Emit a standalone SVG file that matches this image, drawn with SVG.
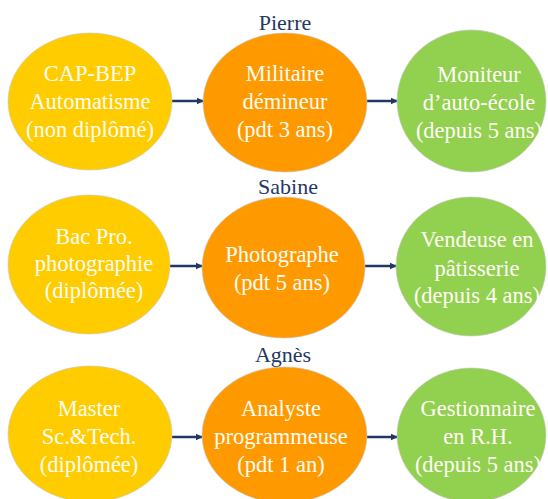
<svg xmlns="http://www.w3.org/2000/svg" width="548" height="499" viewBox="0 0 548 499">
  <style>
    .edu { fill: #FFCC00; }
    .job1 { fill: #FF9900; }
    .job2 { fill: #92D050; }
    .node ellipse { stroke: #c8c8c8; stroke-opacity: 0.6; stroke-width: 1; }
    .node text { font-family: "Liberation Serif", serif; font-size: 22.5px; fill: #fffdf5; text-anchor: middle; }
    .name { font-family: "Liberation Serif", serif; font-size: 22px; fill: #1F3864; text-anchor: middle; }
    .link { stroke: #1F3864; stroke-width: 2.5; fill: none; marker-end: url(#head); }
  </style>
  <defs>
    <marker id="head" markerWidth="8" markerHeight="8" refX="6" refY="4" orient="auto" markerUnits="userSpaceOnUse">
      <path d="M0,0.8 L7,4 L0,7.2 Z" fill="#1F3864"/>
    </marker>
  </defs>
  <rect x="0" y="0" width="548" height="499" fill="#ffffff"/>

  <!-- person names -->
  <g id="labels">
    <text class="name" x="285" y="30">Pierre</text>
    <text class="name" x="288" y="194">Sabine</text>
    <text class="name" x="283" y="362">Agnès</text>
  </g>

  <!-- arrows between career stages -->
  <g id="connectors">
    <line class="link" x1="172" y1="101" x2="203" y2="101"/>
    <line class="link" x1="367" y1="101" x2="397" y2="101"/>
    <line class="link" x1="170" y1="266" x2="202" y2="266"/>
    <line class="link" x1="365" y1="266" x2="396" y2="266"/>
    <line class="link" x1="172" y1="437" x2="202" y2="437"/>
    <line class="link" x1="367" y1="437" x2="397" y2="437"/>
  </g>

  <g id="nodes">
    <!-- Pierre -->
    <g id="pierre-formation" class="node">
      <ellipse class="edu" cx="90" cy="101.5" rx="82" ry="68.5"/>
      <text x="90" y="81">CAP-BEP</text>
      <text x="90" y="109">Automatisme</text>
      <text x="90" y="137">(non diplômé)</text>
    </g>
    <g id="pierre-emploi1" class="node">
      <ellipse class="job1" cx="285" cy="102.5" rx="82" ry="69.5"/>
      <text x="285" y="81">Militaire</text>
      <text x="285" y="109">démineur</text>
      <text x="285" y="137">(pdt 3 ans)</text>
    </g>
    <g id="pierre-emploi2" class="node">
      <ellipse class="job2" cx="471.5" cy="101" rx="74.5" ry="71"/>
      <text x="479" y="82">Moniteur</text>
      <text x="479" y="110">d’auto-école</text>
      <text x="479" y="138">(depuis 5 ans)</text>
    </g>

    <!-- Sabine -->
    <g id="sabine-formation" class="node">
      <ellipse class="edu" cx="89" cy="264.5" rx="81" ry="69.5"/>
      <text x="94" y="244">Bac Pro.</text>
      <text x="94" y="271">photographie</text>
      <text x="94" y="298">(diplômée)</text>
    </g>
    <g id="sabine-emploi1" class="node">
      <ellipse class="job1" cx="283.5" cy="267.5" rx="81.5" ry="70.5"/>
      <text x="282" y="262">Photographe</text>
      <text x="282" y="290">(pdt 5 ans)</text>
    </g>
    <g id="sabine-emploi2" class="node">
      <ellipse class="job2" cx="471" cy="266.5" rx="75" ry="69.5"/>
      <text x="477" y="247">Vendeuse en</text>
      <text x="477" y="276">pâtisserie</text>
      <text x="477" y="303">(depuis 4 ans)</text>
    </g>

    <!-- Agnès -->
    <g id="agnes-formation" class="node">
      <ellipse class="edu" cx="90" cy="434" rx="82" ry="68"/>
      <text x="89" y="416">Master</text>
      <text x="89" y="444">Sc.&amp;Tech.</text>
      <text x="89" y="472">(diplômée)</text>
    </g>
    <g id="agnes-emploi1" class="node">
      <ellipse class="job1" cx="284.5" cy="435" rx="82.5" ry="68"/>
      <text x="281" y="416">Analyste</text>
      <text x="281" y="444">programmeuse</text>
      <text x="281" y="472">(pdt 1 an)</text>
    </g>
    <g id="agnes-emploi2" class="node">
      <ellipse class="job2" cx="471.5" cy="435" rx="74.5" ry="67"/>
      <text x="478" y="416">Gestionnaire</text>
      <text x="478" y="444">en R.H.</text>
      <text x="478" y="472">(depuis 5 ans)</text>
    </g>
  </g>
</svg>
